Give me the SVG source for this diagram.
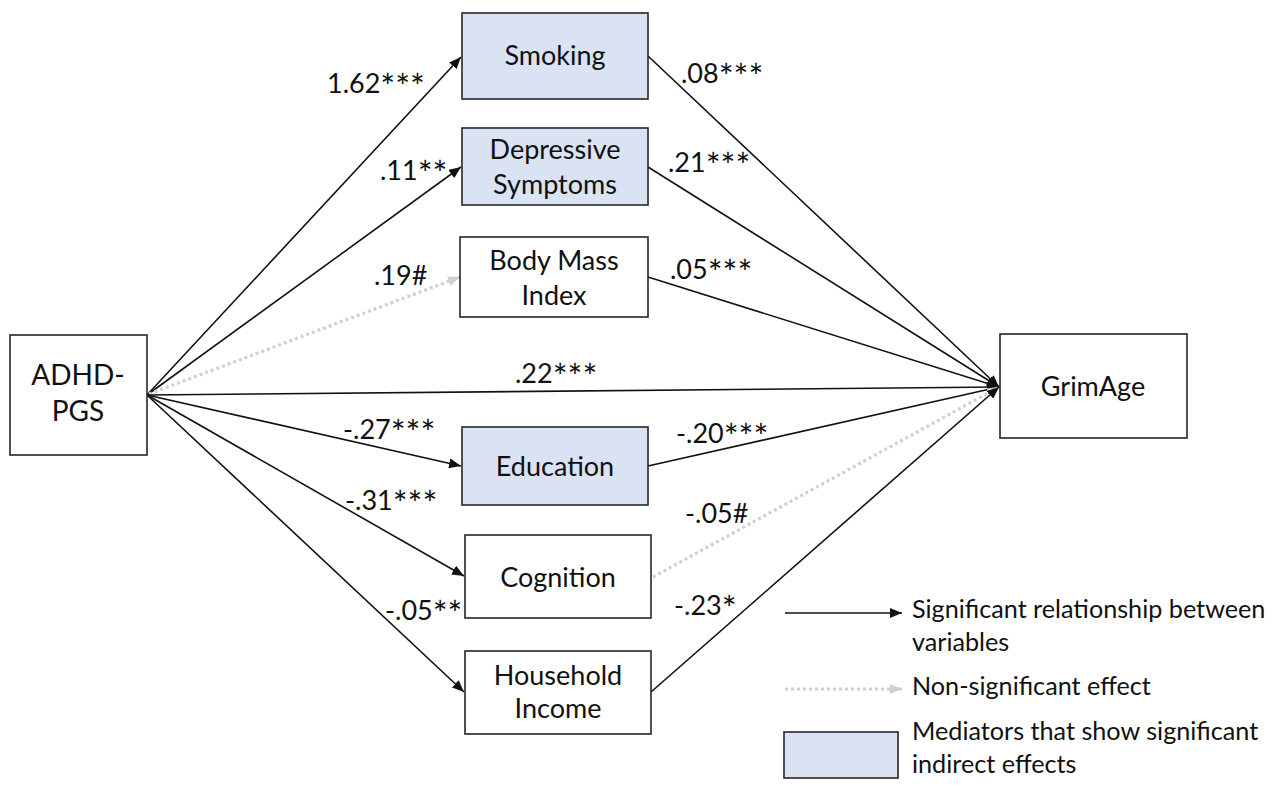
<svg xmlns="http://www.w3.org/2000/svg" width="1277" height="789" viewBox="0 0 1277 789">
<style>
.box{fill:#ffffff;stroke:#262626;stroke-width:1.6}
.med{fill:#dae3f3;stroke:#262626;stroke-width:1.6}
text{font-family:Lato,"Open Sans",sans-serif;fill:#111111}
.t{font-size:27px;text-anchor:middle}
.l{font-size:27px}
.a{font-size:35px}
.lg{font-size:25.2px}
.sig{fill:none;stroke:#111111;stroke-width:1.6}
.ns{fill:none;stroke:#d0d0d0;stroke-width:3.2;stroke-dasharray:3 3}
</style>
<defs>
<marker id="ah" markerUnits="userSpaceOnUse" markerWidth="13" markerHeight="10" refX="12" refY="5" orient="auto" viewBox="0 0 13 10">
<path d="M0,0 L12,5 L0,10 z" fill="#111111"/>
</marker>
<marker id="ahg" markerUnits="userSpaceOnUse" markerWidth="13" markerHeight="10" refX="12" refY="5" orient="auto" viewBox="0 0 13 10">
<path d="M0,0 L12,5 L0,10 z" fill="#d0d0d0"/>
</marker>
</defs>

<g id="connectors">
<line class="sig" x1="147" y1="395" x2="461" y2="57" marker-end="url(#ah)"/>
<line class="sig" x1="147" y1="395" x2="461" y2="167" marker-end="url(#ah)"/>
<line class="ns" x1="149" y1="394" x2="460" y2="277" marker-end="url(#ahg)"/>
<line class="sig" x1="147" y1="395" x2="999" y2="387" marker-end="url(#ah)"/>
<line class="sig" x1="147" y1="395" x2="461" y2="466" marker-end="url(#ah)"/>
<line class="sig" x1="147" y1="395" x2="464" y2="576" marker-end="url(#ah)"/>
<line class="sig" x1="147" y1="395" x2="464" y2="692" marker-end="url(#ah)"/>
<line class="sig" x1="648" y1="56" x2="999" y2="387" marker-end="url(#ah)"/>
<line class="sig" x1="648" y1="167" x2="999" y2="387" marker-end="url(#ah)"/>
<line class="sig" x1="648" y1="277" x2="999" y2="387" marker-end="url(#ah)"/>
<line class="sig" x1="648" y1="466" x2="999" y2="387" marker-end="url(#ah)"/>
<line class="ns" x1="653" y1="577" x2="999" y2="387" marker-end="url(#ahg)"/>
<line class="sig" x1="651" y1="692" x2="999" y2="387" marker-end="url(#ah)"/>
</g>

<g id="edge-labels">
<text class="l" x="327" y="93">1.62<tspan class="a" dy="6">***</tspan></text>
<text class="l" x="380" y="180">.11<tspan class="a" dy="6">**</tspan></text>
<text class="l" x="374" y="285">.19#</text>
<text class="l" x="681" y="83">.08<tspan class="a" dy="6">***</tspan></text>
<text class="l" x="668" y="172">.21<tspan class="a" dy="6">***</tspan></text>
<text class="l" x="670" y="279">.05<tspan class="a" dy="6">***</tspan></text>
<text class="l" x="515" y="383">.22<tspan class="a" dy="6">***</tspan></text>
<text class="l" x="343" y="439">-.27<tspan class="a" dy="6">***</tspan></text>
<text class="l" x="676" y="443">-.20<tspan class="a" dy="6">***</tspan></text>
<text class="l" x="345" y="510">-.31<tspan class="a" dy="6">***</tspan></text>
<text class="l" x="685" y="523">-.05#</text>
<text class="l" x="385" y="620">-.05<tspan class="a" dy="6">**</tspan></text>
<text class="l" x="674" y="615">-.23<tspan class="a" dy="6">*</tspan></text>
</g>

<g id="node-adhd">
<rect class="box" x="10" y="335" width="137" height="120"/>
<text class="t" x="78" y="385" style="font-size:28px">ADHD-</text>
<text class="t" x="78" y="421" style="font-size:28px">PGS</text>
</g>
<g id="node-smoking">
<rect class="med" x="462" y="13" width="186" height="86"/>
<text class="t" x="555" y="65">Smoking</text>
</g>
<g id="node-depressive">
<rect class="med" x="462" y="128" width="186" height="77"/>
<text class="t" x="555" y="159">Depressive</text>
<text class="t" x="555" y="194">Symptoms</text>
</g>
<g id="node-bmi">
<rect class="box" x="460" y="237" width="188" height="80"/>
<text class="t" x="554" y="270">Body Mass</text>
<text class="t" x="554" y="305">Index</text>
</g>
<g id="node-education">
<rect class="med" x="462" y="427" width="186" height="78"/>
<text class="t" x="555" y="476">Education</text>
</g>
<g id="node-cognition">
<rect class="box" x="465" y="535" width="186" height="83"/>
<text class="t" x="558" y="587">Cognition</text>
</g>
<g id="node-income">
<rect class="box" x="465" y="651" width="186" height="83"/>
<text class="t" x="558" y="685">Household</text>
<text class="t" x="558" y="718">Income</text>
</g>
<g id="node-grimage">
<rect class="box" x="1000" y="334" width="187" height="104"/>
<text class="t" x="1093" y="396">GrimAge</text>
</g>

<g id="legend">
<line class="sig" x1="785" y1="613" x2="902" y2="613" marker-end="url(#ah)"/>
<text class="lg" x="912" y="618">Significant relationship between</text>
<text class="lg" x="912" y="651">variables</text>
<line class="ns" x1="785" y1="689" x2="902" y2="689" marker-end="url(#ahg)"/>
<text class="lg" x="912" y="695">Non-significant effect</text>
<rect class="med" x="784" y="732" width="114" height="46"/>
<text class="lg" x="912" y="740">Mediators that show significant</text>
<text class="lg" x="912" y="773">indirect effects</text>
</g>
</svg>
